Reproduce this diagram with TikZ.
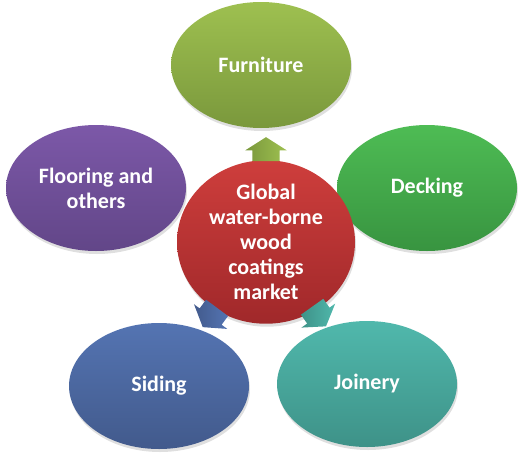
\documentclass[tikz,border=0pt]{standalone}
\usepackage{fontspec}
\setmainfont{Carlito}
\usepackage{xcolor}
\usepackage{tikz}
\usetikzlibrary{calc}
\usetikzlibrary{shapes}
\usetikzlibrary{shadows}
\definecolor{wb-green1}{RGB}{158, 192, 80}
\definecolor{wb-green2}{RGB}{122, 152, 60}
\definecolor{wb-purple1}{RGB}{124, 88, 168}
\definecolor{wb-purple2}{RGB}{98, 70, 136}
\definecolor{wb-leaf1}{RGB}{78, 188, 84}
\definecolor{wb-leaf2}{RGB}{56, 148, 64}
\definecolor{wb-red1}{RGB}{206, 62, 60}
\definecolor{wb-red2}{RGB}{160, 40, 42}
\definecolor{wb-blue1}{RGB}{84, 116, 178}
\definecolor{wb-blue2}{RGB}{66, 90, 140}
\definecolor{wb-teal1}{RGB}{80, 184, 172}
\definecolor{wb-teal2}{RGB}{62, 146, 136}

\begin{document}
\begin{tikzpicture}[x = 1pt, y = -1pt,
    bubble/.style = {ellipse, inner sep = 0pt, minimum width = 180pt, minimum height = 126pt,
      text = white, align = center, font = \fontsize{22}{25}\selectfont\bfseries,
      drop shadow = {shadow xshift = 1pt, shadow yshift = -3pt, opacity = 0.25}},
    blockarrow/.style = {single arrow, inner xsep = 0pt, inner ysep = 13.5pt,
      minimum height = 24pt, minimum width = 41pt, single arrow head extend = 7pt,
      single arrow tip angle = 115, sloped, allow upside down, midway}]
          \useasboundingbox (0, 0) rectangle (532, 458);

          \coordinate (furniture-c) at (261, 65);
          \coordinate (flooring-c) at (96, 188);
          \coordinate (decking-c) at (427, 188);
          \coordinate (market-c) at (266, 242);
          \coordinate (siding-c) at (159, 386);
          \coordinate (joinery-c) at (367, 384);

          \node[bubble, top color = wb-green1, bottom color = wb-green2] (furniture) at (furniture-c) {Furniture};
          \node[bubble, top color = wb-purple1, bottom color = wb-purple2] (flooring) at (flooring-c) {Flooring and\\others};
          \node[bubble, top color = wb-leaf1, bottom color = wb-leaf2] (decking) at (decking-c) {Decking};
          \node[bubble, top color = wb-blue1, bottom color = wb-blue2] (siding) at (siding-c) {Siding};
          \node[bubble, top color = wb-teal1, bottom color = wb-teal2] (joinery) at (joinery-c) {Joinery};
          \node[bubble, minimum width = 178pt, minimum height = 136pt, top color = wb-red1, bottom color = wb-red2] (market) at (market-c)
            {Global\\water-borne\\wood\\coatings\\market};

          \path (market.center) -- (market.center |- furniture.center) node[blockarrow, left color = wb-green2, right color = wb-green1] (to-furniture) {};
          \path (market.center) -- (siding.center) node[blockarrow, left color = wb-blue2, right color = wb-blue1] (to-siding) {};
          \path (market.center) -- (joinery.center) node[blockarrow, left color = wb-teal2, right color = wb-teal1] (to-joinery) {};
        \end{tikzpicture}
\end{document}
